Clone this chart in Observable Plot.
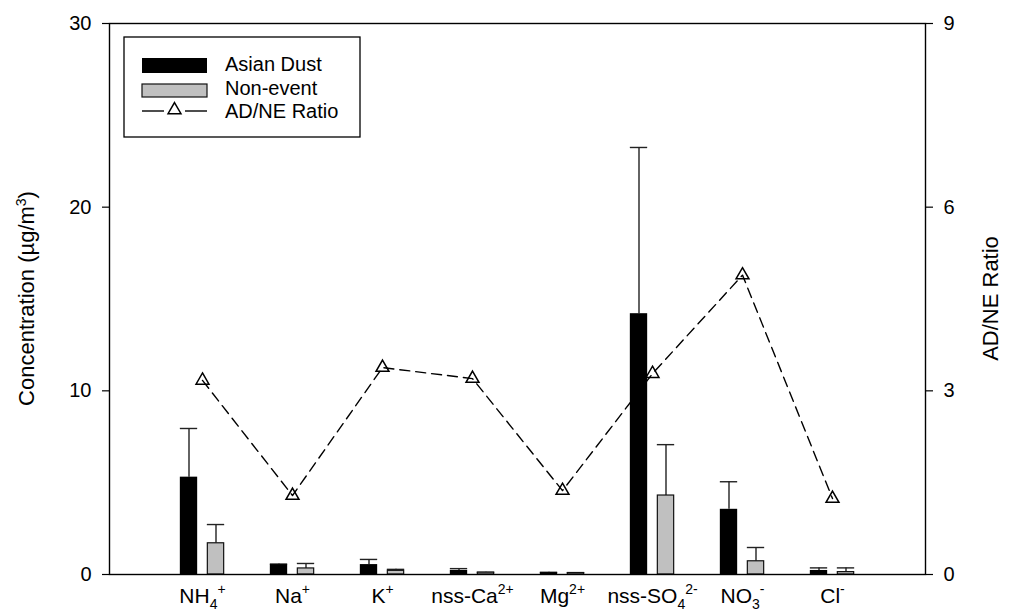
<!DOCTYPE html>
<html>
<head>
<meta charset="utf-8">
<script src="https://cdn.jsdelivr.net/npm/d3@7"></script>
<script src="https://cdn.jsdelivr.net/npm/@observablehq/plot@0.6"></script>
<style>
  html, body { margin: 0; padding: 0; background: #fff; }
  #chart { width: 1012px; height: 611px; position: relative; }
  svg { font-family: "Liberation Sans", Arial, sans-serif; }
</style>
</head>
<body>
<div id="chart"></div>
<script>
// ---- data ----
const categories = ["NH4+", "Na+", "K+", "nss-Ca2+", "Mg2+", "nss-SO42-", "NO3-", "Cl-"];
const labelBase  = ["NH", "Na", "K", "nss-Ca", "Mg", "nss-SO", "NO", "Cl"];
const labelSub   = ["4", "", "", "", "", "4", "3", ""];
const labelSup   = ["+", "+", "+", "2+", "2+", "2-", "-", "-"];
const asianDust     = [5.3, 0.54, 0.54, 0.22, 0.1, 14.2, 3.55, 0.22];
const asianDustErr  = [2.65, 0.03, 0.28, 0.1, 0.02, 9.05, 1.5, 0.14];
const nonEvent      = [1.7, 0.33, 0.2, 0.1, 0.08, 4.3, 0.72, 0.13];
const nonEventErr   = [1.02, 0.27, 0.08, 0.02, 0.02, 2.77, 0.75, 0.23];
const ratio         = [3.17, 1.29, 3.38, 3.2, 1.37, 3.28, 4.89, 1.24];
const leftTicks  = [0, 10, 20, 30];
const rightTicks = [0, 3, 6, 9];
const leftMax = 30, rightMax = 9;
const seriesNames = ["Asian Dust", "Non-event", "AD/NE Ratio"];

// ---- tables ----
const rows = categories.map((c, i) => ({
  cat: c, ad: asianDust[i], adErr: asianDustErr[i],
  ne: nonEvent[i], neErr: nonEventErr[i], ratio: ratio[i]
}));
const k = leftMax / rightMax;

const W = 1012, H = 611;
const mL = 109, mR = 87, mT = 23, mB = 37;
const step = (W - mL - mR) / (categories.length + 1);
const barW = 18, off = 13.5;
const inset = (step - barW) / 2;

const chart = Plot.plot({
  width: W, height: H,
  marginLeft: mL, marginRight: mR, marginTop: mT, marginBottom: mB,
  style: { fontFamily: "Liberation Sans, Arial, sans-serif", fontSize: "20px", background: "#fff", color: "#000" },
  x: { type: "band", domain: categories, paddingInner: 0, paddingOuter: 0.5, axis: null },
  y: { domain: [0, leftMax], axis: null },
  marks: [
    // error bars (drawn first, so bars cover the lower part)
    Plot.ruleX(rows, { x: "cat", y1: "ad", y2: d => d.ad + d.adErr, dx: -off, stroke: "#222", strokeWidth: 1.4 }),
    Plot.tickY(rows, { x: "cat", y: d => d.ad + d.adErr, dx: -off, insetLeft: inset, insetRight: inset, stroke: "#222", strokeWidth: 1.4 }),
    Plot.ruleX(rows, { x: "cat", y1: "ne", y2: d => d.ne + d.neErr, dx: off, stroke: "#222", strokeWidth: 1.4 }),
    Plot.tickY(rows, { x: "cat", y: d => d.ne + d.neErr, dx: off, insetLeft: inset, insetRight: inset, stroke: "#222", strokeWidth: 1.4 }),
    // bars
    Plot.barY(rows, { x: "cat", y: "ad", dx: -off, insetLeft: inset, insetRight: inset, fill: "#000" }),
    Plot.barY(rows, { x: "cat", y: "ne", dx: off, insetLeft: inset + 0.5, insetRight: inset + 0.5, fill: "#c0c0c0", stroke: "#111", strokeWidth: 1.2 }),
    // ratio line on right axis (scaled)
    Plot.line(rows, { x: "cat", y: d => d.ratio * k, stroke: "#000", strokeWidth: 1.4, strokeDasharray: "10,6" }),
    Plot.dot(rows, { x: "cat", y: d => d.ratio * k, symbol: "triangle", r: 4.8, fill: "none", stroke: "#000", strokeWidth: 1.5 }),
    // axes
    Plot.axisY({ anchor: "left", ticks: leftTicks, tickSize: 7, tickPadding: 11, label: null, stroke: "#000", strokeWidth: 1.2 }),
    Plot.axisY({ anchor: "right", ticks: rightTicks.map(t => t * k), tickFormat: d => String(Math.round(d / k)), tickSize: 7, tickPadding: 11, label: null, stroke: "#000", strokeWidth: 1.2 }),
    Plot.axisX({ tickSize: 0, tickPadding: 14, label: null, fontSize: 21 }),
    Plot.frame({ stroke: "#000", strokeWidth: 1.4 })
  ]
});
document.getElementById("chart").appendChild(chart);

const svg = d3.select(chart);

// rich x tick labels (sub/superscripts)
svg.selectAll('g[aria-label="x-axis tick label"] text').each(function () {
  const t = d3.select(this);
  const i = categories.indexOf(t.text());
  if (i < 0) return;
  t.text(null).style("font-size", "21px");
  t.append("tspan").text(labelBase[i]);
  let shift = 0;
  if (labelSub[i]) {
    t.append("tspan").attr("dy", 6).style("font-size", "14px").text(labelSub[i]);
    shift = 6;
  }
  t.append("tspan").attr("dy", -shift - 9).style("font-size", "14px").text(labelSup[i]);
});

// axis titles
const yMid = (mT + (H - mB)) / 2;
const lt = svg.append("text")
  .attr("transform", `translate(34,${yMid}) rotate(-90)`)
  .attr("text-anchor", "middle").style("font-size", "22px").attr("fill", "#000");
lt.append("tspan").text("Concentration (µg/m");
lt.append("tspan").attr("dy", -8).style("font-size", "14px").text("3");
lt.append("tspan").attr("dy", 8).text(")");

svg.append("text")
  .attr("transform", `translate(998,${yMid}) rotate(-90)`)
  .attr("text-anchor", "middle").style("font-size", "22px").attr("fill", "#000")
  .text("AD/NE Ratio");

// legend
const lg = svg.append("g").attr("transform", "translate(124,37)");
lg.append("rect").attr("width", 236).attr("height", 100).attr("fill", "#fff").attr("stroke", "#000").attr("stroke-width", 1.3);
const sx = 18, sw = 65, tx = 101;
lg.append("rect").attr("x", sx).attr("y", 21).attr("width", sw).attr("height", 15).attr("fill", "#000");
lg.append("rect").attr("x", sx).attr("y", 47).attr("width", sw).attr("height", 13).attr("fill", "#c0c0c0").attr("stroke", "#111").attr("stroke-width", 1.2);
lg.append("line").attr("x1", sx).attr("x2", sx + 22).attr("y1", 74).attr("y2", 74).attr("stroke", "#000").attr("stroke-width", 1.4);
lg.append("line").attr("x1", sx + 43).attr("x2", sx + sw).attr("y1", 74).attr("y2", 74).attr("stroke", "#000").attr("stroke-width", 1.4);
lg.append("path").attr("d", d3.symbol(d3.symbolTriangle, 4.8 * 4.8 * Math.PI)()).attr("transform", `translate(${sx + sw / 2},73)`)
  .attr("fill", "none").attr("stroke", "#000").attr("stroke-width", 1.5);
[34, 58, 81].forEach((y, i) => {
  lg.append("text").attr("x", tx).attr("y", y).attr("text-anchor", "start")
    .style("font-size", "20px").attr("fill", "#000").text(seriesNames[i]);
});
</script>
</body>
</html>
